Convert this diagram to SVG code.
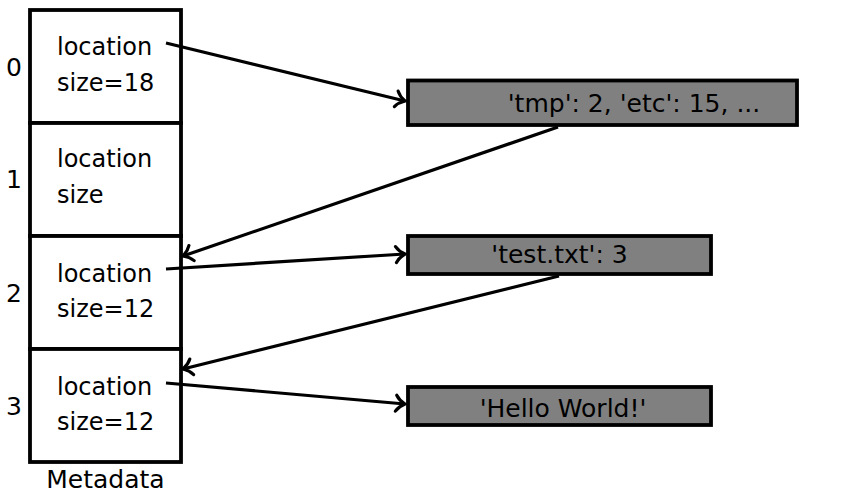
<svg xmlns="http://www.w3.org/2000/svg" width="861" height="494" viewBox="0 0 861 494">
<style>
.cell{fill:#fff;stroke:#000;stroke-width:3.8}
.blk{fill:#808080;stroke:#000;stroke-width:3.8}
text{font-family:"DejaVu Sans","Liberation Sans",sans-serif;fill:#000}
.t{font-size:24px}
.bt{font-size:25px;text-anchor:middle}
.idx{font-size:25px;text-anchor:middle}
.arr{fill:none;stroke:#000;stroke-width:3.2;marker-end:url(#tip)}
</style>
<defs>
<marker id="tip" markerUnits="userSpaceOnUse" viewBox="-12 -11 14 22" refX="0" refY="0" markerWidth="14" markerHeight="22" orient="auto" overflow="visible">
<path d="M-9,-8 C-6,-3 -2,-1 0,0 C-2,1 -6,3 -9,8" fill="none" stroke="#000" stroke-width="3.2" stroke-linecap="round"/>
</marker>
</defs>
<g id="metadata">
<g id="cell0">
<rect class="cell" x="30" y="10" width="151" height="113"/>
<text class="idx" x="14" y="76">0</text>
<text class="t" x="57" y="55">location</text>
<text class="t" x="57" y="91">size=18</text>
</g>
<g id="cell1">
<rect class="cell" x="30" y="123" width="151" height="113"/>
<text class="idx" x="14" y="188">1</text>
<text class="t" x="57" y="167">location</text>
<text class="t" x="57" y="203">size</text>
</g>
<g id="cell2">
<rect class="cell" x="30" y="236" width="151" height="113"/>
<text class="idx" x="14" y="302">2</text>
<text class="t" x="57" y="282">location</text>
<text class="t" x="57" y="317">size=12</text>
</g>
<g id="cell3">
<rect class="cell" x="30" y="349" width="151" height="113"/>
<text class="idx" x="14" y="415">3</text>
<text class="t" x="57" y="395">location</text>
<text class="t" x="57" y="430">size=12</text>
</g>
<text class="idx" x="105.5" y="488">Metadata</text>
</g>
<g id="block1">
<rect class="blk" x="408" y="80.5" width="389" height="44.5"/>
<text class="bt" x="634" y="112">'tmp': 2, 'etc': 15, ...</text>
</g>
<g id="block2">
<rect class="blk" x="408" y="236" width="303" height="38"/>
<text class="bt" x="559.5" y="263">'test.txt': 3</text>
</g>
<g id="block3">
<rect class="blk" x="408" y="387" width="303" height="38"/>
<text class="bt" x="563" y="417">'Hello World!'</text>
</g>
<g id="connectors">
<line class="arr" x1="166" y1="43" x2="405" y2="101"/>
<line class="arr" x1="558" y1="127" x2="183" y2="256"/>
<line class="arr" x1="166" y1="269" x2="405" y2="254"/>
<line class="arr" x1="559" y1="276" x2="183" y2="369"/>
<line class="arr" x1="166" y1="383" x2="405" y2="404"/>
</g>
</svg>
